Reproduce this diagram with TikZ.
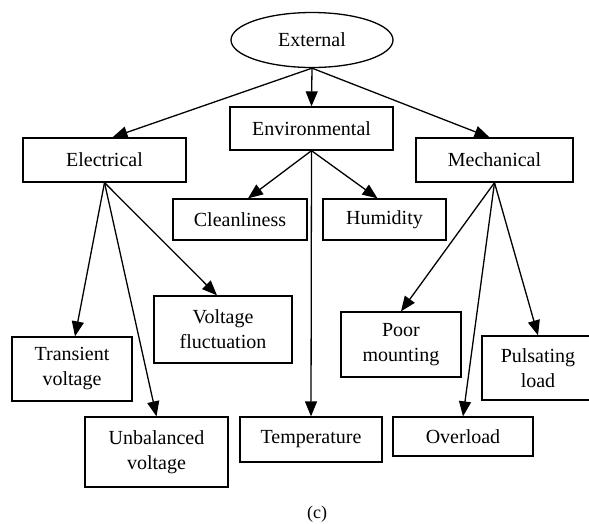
\documentclass[tikz,border=0pt]{standalone}
\usepackage{fontspec}
\setmainfont{Liberation Serif}
\usetikzlibrary{shapes.geometric,arrows.meta}

\tikzset{
  box/.style={draw,line width=1.3pt,rectangle,inner sep=0pt,align=center,
    font=\fontsize{20}{25}\selectfont},
  cause/.style={line width=1.3pt,-{Triangle[length=15pt,width=12pt]}}
}

\begin{document}
\begin{tikzpicture}[x=1pt,y=-1pt]

\clip (0,0) rectangle (589,523);

% The root
\node[draw,ellipse,line width=1.3pt,inner sep=0pt,minimum width=162pt,minimum height=55pt,
  font=\fontsize{20}{25}\selectfont] (ext) at (312,40) {External};

% The three groups
\node[box,minimum width=163pt,minimum height=43pt] (env) at (311.5,128.5) {Environmental};
\node[box,minimum width=163pt,minimum height=44pt] (elec) at (104.5,160) {Electrical};
\node[box,minimum width=157pt,minimum height=44pt] (mech) at (494.5,160) {Mechanical};

% The causes
\node[box,minimum width=134pt,minimum height=41pt] (clean) at (240,219.5) {Cleanliness};
\node[box,minimum width=123pt,minimum height=41pt] (humid) at (384.5,219.5) {Humidity};
\node[box,minimum width=138pt,minimum height=67pt] (volt) at (223,329.5) {Voltage\\fluctuation};
\node[box,minimum width=120pt,minimum height=64pt] (trans) at (72,369) {Transient\\voltage};
\node[box,minimum width=143pt,minimum height=70pt] (unbal) at (156.5,452) {Unbalanced\\voltage};
\node[box,minimum width=142pt,minimum height=45pt] (temp) at (311,439.5) {Temperature};
\node[box,minimum width=120pt,minimum height=65pt] (poor) at (401,344.5) {Poor\\mounting};
\node[box,minimum width=140pt,minimum height=39pt] (over) at (463,436.5) {Overload};
\node[box,minimum width=112pt,minimum height=64pt] (puls) at (538,368) {Pulsating\\load};

\node[font=\fontsize{18}{22}\selectfont] (cap) at (317,514) {(c)};

% The arrows
\draw[cause] (ext.south) -- ([xshift=8pt]elec.north);
\draw[cause] (ext.south) -- (env.north);
\draw[cause] (ext.south) -- ([xshift=-5pt]mech.north);

\draw[cause] (env.south) -- ([xshift=8pt]clean.north);
\draw[cause] (env.south) -- ([xshift=-7pt]humid.north);
\draw[cause] (env.south) -- (temp.north);

\draw[cause] (elec.south) -- ([xshift=3pt]trans.north);
\draw[cause] (elec.south) -- (unbal.north);
\draw[cause] (elec.south) -- ([xshift=-6pt]volt.north);

\draw[cause] (mech.south) -- (poor.north);
\draw[cause] (mech.south) -- (over.north);
\draw[cause] (mech.south) -- (puls.north);

\end{tikzpicture}
\end{document}
